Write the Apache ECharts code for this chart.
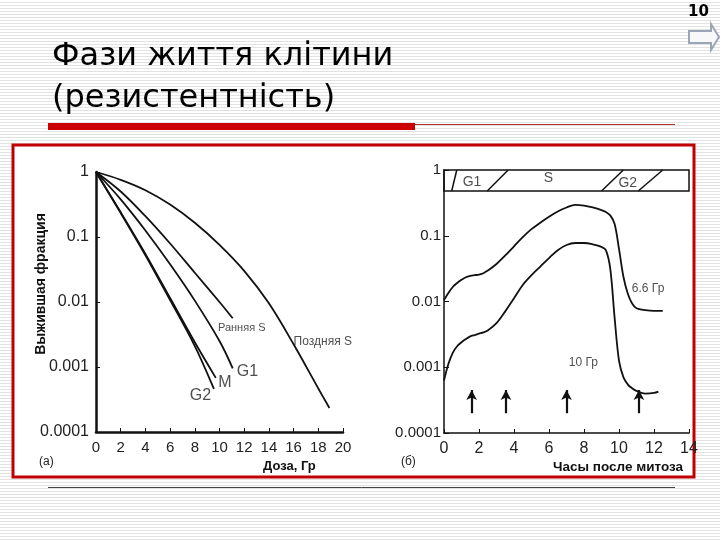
<!DOCTYPE html>
<html>
<head>
<meta charset="utf-8">
<script src="https://cdn.jsdelivr.net/npm/echarts@6/dist/echarts.min.js"></script>
<style>
  html, body { margin: 0; padding: 0; }
  body {
    width: 720px; height: 540px;
    background: repeating-linear-gradient(to bottom, #ffffff 0px, #ffffff 2px, #e2e2e2 2px, #e2e2e2 3px);
  }
  #main { width: 720px; height: 540px; }
</style>
</head>
<body>
<div id="main"></div>
<script>
// левый график: доза (Гр) -> выжившая фракция
const doseLateS = [0, 2, 4, 6, 8, 10, 12, 14, 16, 18, 18.9];
const survLateS = [1, 0.759, 0.525, 0.316, 0.166, 0.0759, 0.0302, 0.00955, 0.00224, 0.000468, 0.000234];
const doseEarlyS = [0, 2, 4, 6, 8, 10, 11.07];
const survEarlyS = [1, 0.501, 0.209, 0.0794, 0.0282, 0.01, 0.00562];
const doseG1 = [0, 2, 4, 6, 8, 10, 11.07];
const survG1 = [1, 0.38, 0.126, 0.038, 0.0105, 0.00251, 0.000955];
const doseM = [0, 2, 4, 6, 8, 9.7];
const survM = [1, 0.24, 0.055, 0.0115, 0.0024, 0.00068];
const doseG2 = [0, 2, 4, 6, 8, 9.55];
const survG2 = [1, 0.234, 0.0525, 0.0107, 0.0021, 0.00046];

// правый график: часы после митоза -> выжившая фракция
const hours66 = [0, 0.25, 0.5, 0.75, 1, 1.25, 1.5, 1.75, 2, 2.25, 2.5, 3, 3.5, 4, 4.5, 5, 5.5, 6, 6.5, 7, 7.5, 8, 8.5, 9, 9.25, 9.5, 9.75, 10, 10.25, 10.5, 10.75, 11, 11.5, 12, 12.5];
const surv66 = [0.0105, 0.0135, 0.0166, 0.0191, 0.0214, 0.0234, 0.0245, 0.0251, 0.0257, 0.0269, 0.0295, 0.0372, 0.0501, 0.0692, 0.0955, 0.126, 0.158, 0.195, 0.234, 0.269, 0.295, 0.288, 0.269, 0.245, 0.229, 0.204, 0.151, 0.0631, 0.024, 0.0132, 0.0093, 0.0079, 0.0074, 0.0072, 0.0072];
const hours10 = [0, 0.25, 0.5, 0.75, 1, 1.25, 1.5, 1.75, 2, 2.25, 2.5, 3, 3.5, 4, 4.5, 5, 5.5, 6, 6.5, 7, 7.5, 8, 8.5, 9, 9.25, 9.5, 9.75, 10, 10.25, 10.5, 10.75, 11, 11.5, 12, 12.25];
const surv10 = [0.00063, 0.00112, 0.00166, 0.00209, 0.0024, 0.00269, 0.00295, 0.00309, 0.00324, 0.00339, 0.00363, 0.00468, 0.00708, 0.0112, 0.0178, 0.0251, 0.0339, 0.0457, 0.0603, 0.0724, 0.0776, 0.0776, 0.0741, 0.0676, 0.0603, 0.0316, 0.00562, 0.00126, 0.000708, 0.00055, 0.000479, 0.000437, 0.000398, 0.000407, 0.000427];

// фазы цикла в верхней полосе
const phaseNames = ['G1', 'S', 'G2'];
const phaseLabelX = [1.6, 5.96, 10.5];
const phaseLabelY = [0.66, 0.75, 0.64];
const phaseBoxBottom = 0.48;
const phaseLineTop = [0.73, 3.67, 10.25, 12.5];
const phaseLineBottom = [0.44, 2.47, 9.0, 11.1];

// стрелки (моменты облучения)
const arrowHours = [1.58, 3.54, 7.0, 11.14];
const arrowFrom = 0.0002;
const arrowTo = 0.00045;

function pairs(xs, ys) {
    return xs.map((x, i) => [x, ys[i]]);
}

const chart = echarts.init(document.getElementById('main'));
const FONT = 'Liberation Sans, Arial';

function curve(name, xs, ys, idx, smooth) {
    return {
        name: name, type: 'line', xAxisIndex: idx, yAxisIndex: idx,
        data: pairs(xs, ys), smooth: smooth, showSymbol: false,
        lineStyle: { color: '#111', width: 1.8 }, silent: true
    };
}

function textPoints(idx, items) {
    return {
        type: 'scatter', xAxisIndex: idx, yAxisIndex: idx, symbolSize: 0, silent: true,
        data: items.map(t => ({
            value: [t[1], t[2]],
            label: {
                show: true, position: 'inside', formatter: t[0], align: t[3],
                fontFamily: FONT, fontSize: t[4], color: '#222'
            }
        }))
    };
}

function logLabel(v) {
    return String(Number(v.toPrecision(1)));
}

const option = {
    animation: false,
    grid: [
        { left: 96, top: 172, width: 247, height: 260 },
        { left: 444, top: 170, width: 245, height: 263 }
    ],
    xAxis: [
        {
            gridIndex: 0, type: 'value', min: 0, max: 20, interval: 2,
            axisLine: { lineStyle: { color: '#111', width: 2.5 } },
            axisTick: { inside: true, length: 4, lineStyle: { color: '#111' } },
            axisLabel: { margin: 8, fontFamily: FONT, fontSize: 15, color: '#222' },
            splitLine: { show: false }
        },
        {
            gridIndex: 1, type: 'value', min: 0, max: 14, interval: 2,
            axisLine: { lineStyle: { color: '#111', width: 1.5 } },
            axisTick: { inside: true, length: 4, lineStyle: { color: '#111' } },
            axisLabel: { margin: 8, fontFamily: FONT, fontSize: 16, color: '#222' },
            splitLine: { show: false }
        }
    ],
    yAxis: [
        {
            gridIndex: 0, type: 'log', logBase: 10, min: 0.0001, max: 1,
            axisLine: { lineStyle: { color: '#111', width: 2.5 } },
            axisTick: { inside: true, length: 4, lineStyle: { color: '#111' } },
            axisLabel: { margin: 7, formatter: logLabel, fontFamily: FONT, fontSize: 16, color: '#222' },
            splitLine: { show: false }
        },
        {
            gridIndex: 1, type: 'log', logBase: 10, min: 0.0001, max: 1,
            axisLine: { lineStyle: { color: '#111', width: 1.5 } },
            axisTick: { inside: true, length: 5, lineStyle: { color: '#111' } },
            axisLabel: { margin: 3, formatter: logLabel, fontFamily: FONT, fontSize: 15, color: '#222' },
            splitLine: { show: false }
        }
    ],
    graphic: [
        { type: 'rect', shape: { x: 13, y: 145, width: 681, height: 332 }, style: { fill: '#fff', stroke: '#c00000', lineWidth: 3 }, z: -5 },
        { type: 'text', left: 52, top: 41, style: { text: 'Фази життя клітини', font: '32px "DejaVu Sans"', fill: '#000' } },
        { type: 'text', left: 52, top: 83, style: { text: '(резистентність)', font: '32px "DejaVu Sans"', fill: '#000' } },
        { type: 'rect', shape: { x: 48, y: 123, width: 367, height: 7 }, style: { fill: '#cc0000' } },
        { type: 'line', shape: { x1: 415, y1: 124.5, x2: 675, y2: 124.5 }, style: { stroke: '#b03030', lineWidth: 1 } },
        { type: 'line', shape: { x1: 48, y1: 487.5, x2: 675, y2: 487.5 }, style: { stroke: '#444', lineWidth: 1 } },
        { type: 'text', left: 688, top: 5, style: { text: '10', font: 'bold 15px "DejaVu Sans"', fill: '#000' } },
        { type: 'polygon', shape: { points: [[689, 31], [711, 31], [711, 24], [719, 37], [711, 50], [711, 43], [689, 43]] }, style: { fill: '#f6f8fa', stroke: '#9aa6b6', lineWidth: 2 } },
        { type: 'text', x: 41, y: 284, rotation: Math.PI / 2, style: { text: 'Выжившая фракция', font: 'bold 14px "Liberation Sans"', fill: '#111', align: 'center', verticalAlign: 'middle' } },
        { type: 'text', left: 39, top: 456, style: { text: '(a)', font: '12px "Liberation Sans"', fill: '#222' } },
        { type: 'text', left: 263, top: 460, style: { text: 'Доза, Гр', font: 'bold 13px "Liberation Sans"', fill: '#111' } },
        { type: 'text', left: 401, top: 456, style: { text: '(б)', font: '12px "Liberation Sans"', fill: '#222' } },
        { type: 'text', left: 553, top: 460, style: { text: 'Часы после митоза', font: 'bold 13.5px "Liberation Sans"', fill: '#111' } }
    ],
    series: [
        curve('Поздняя S', doseLateS, survLateS, 0, 0.35),
        curve('Ранняя S', doseEarlyS, survEarlyS, 0, 0.35),
        curve('G1', doseG1, survG1, 0, 0.35),
        curve('M', doseM, survM, 0, 0.35),
        curve('G2', doseG2, survG2, 0, 0.35),
        textPoints(0, [
            ['Ранняя S', 11.8, 0.004, 'center', 11],
            ['Поздняя S', 16.0, 0.00245, 'left', 12],
            ['G1', 11.4, 0.00085, 'left', 16],
            ['M', 9.9, 0.00057, 'left', 16],
            ['G2', 7.6, 0.00036, 'left', 16]
        ]),
        curve('6.6 Гр', hours66, surv66, 1, 0.35),
        curve('10 Гр', hours10, surv10, 1, 0.35),
        {
            type: 'line', xAxisIndex: 1, yAxisIndex: 1, data: [], silent: true,
            markArea: {
                silent: true,
                itemStyle: { color: 'rgba(0,0,0,0)', borderColor: '#111', borderWidth: 1.5 },
                data: [[{ coord: [0, phaseBoxBottom] }, { coord: [14, 1] }]]
            },
            markLine: {
                silent: true, symbol: ['none', 'none'], label: { show: false },
                lineStyle: { color: '#111', width: 1.5, type: 'solid' },
                data: phaseLineTop.map((x, i) => [{ coord: [x, 1] }, { coord: [phaseLineBottom[i], phaseBoxBottom] }])
            }
        },
        {
            type: 'line', xAxisIndex: 1, yAxisIndex: 1, data: [], silent: true,
            markLine: {
                silent: true, symbol: ['none', 'arrow'], symbolSize: [8, 10], label: { show: false },
                lineStyle: { color: '#111', width: 2.2, type: 'solid' },
                data: arrowHours.map(x => [{ coord: [x, arrowFrom] }, { coord: [x, arrowTo] }])
            }
        },
        textPoints(1, phaseNames.map((n, i) => [n, phaseLabelX[i], phaseLabelY[i], 'center', 14]).concat([
            ['6.6 Гр', 11.66, 0.0158, 'center', 12],
            ['10 Гр', 7.96, 0.00117, 'center', 12]
        ]))
    ]
};

chart.setOption(option);
</script>
</body>
</html>
